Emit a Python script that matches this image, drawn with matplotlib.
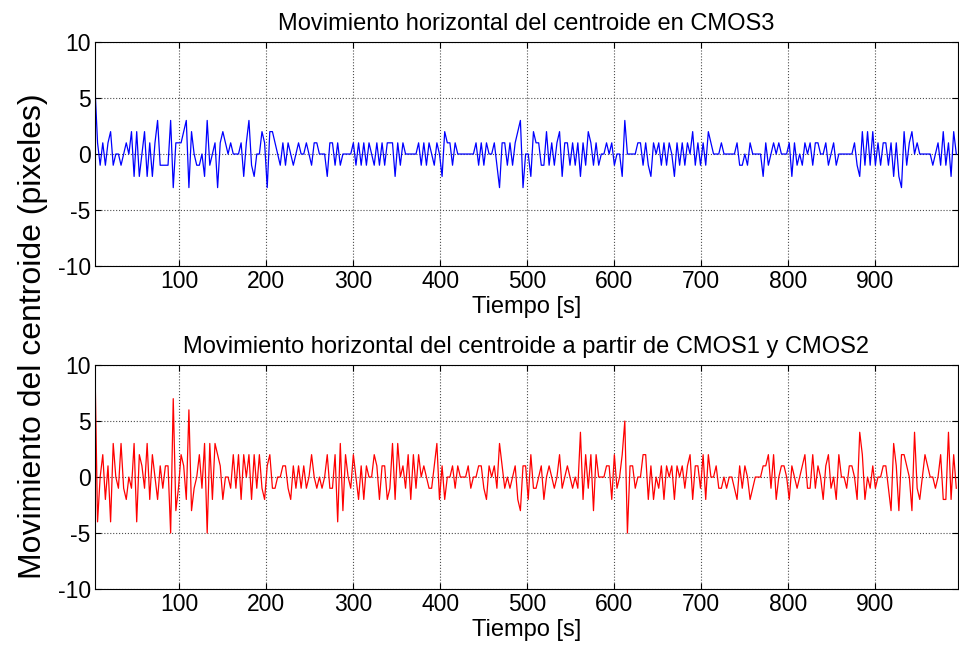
import matplotlib
matplotlib.use("Agg")
import matplotlib.pyplot as plt
import numpy as np

plt.rcParams['font.family'] = ['Liberation Sans', 'DejaVu Sans']
plt.rcParams['axes.unicode_minus'] = False

# sampling: first sample at t=3 s, one sample every 3 s
t_start = 3
t_step = 3

# horizontal centroid movement in CMOS3 (pixels), rows of ~100 s
cmos3 = (
    [6, 1, -1, 1, -1, 1, 2, -1, 0, 0, -1, 0, 1, 0, 2, -2, 2, -2, 0, 2, -2, 1, -2, 1, 3, -1, -1, -1, -1, 3, -3, 1, 1]
    + [1, 2, 3, -3, 2, 0, -1, -1, 0, -2, 3, -1, 0, 1, -3, 1, 2, 1, 0, 1, 0, 0, 0, 1, -2, 1, 3, -1, -2, 0, 0, 2, 1]
    + [-3, 2, 2, 1, 0, -1, 1, -1, 1, 0, -1, 0, 1, 0, 0, 1, 0, -1, 1, 1, 0, 0, 0, -2, 1, 1, -1, 1, -1, 0, 0, 0, 0]
    + [1, -1, 1, -1, 1, -1, 1, 0, -1, 1, -1, 1, -1, 1, 1, 1, -2, 1, -1, 1, 0, 0, 0, 0, 0, 1, -1, 1, -1, 1, 0, -1, 1]
    + [0, -2, 2, 1, 1, -1, 1, 0, 0, 0, 0, 0, 0, 0, 1, -1, 1, -1, 1, 0, 0, 1, -1, -3, 1, 1, -1, 1, -1, 1, 2, 3, -3]
    + [0, 0, -2, 2, 1, 1, -1, -1, 2, -1, 1, -1, 1, 2, -2, 1, 1, -1, 1, -1, 1, -2, 1, -1, 2, 1, -1, 1, -1, 0, 0, 1, 0]
    + [1, -1, 0, 0, -2, 3, 0, 0, 0, 0, 1, 1, -1, 1, -1, -2, 1, 0, 1, -1, 1, -1, 1, 0, -2, 1, -1, 1, -1, 1, 0, 2, -1]
    + [1, -1, 1, -1, 2, 1, 0, 0, 0, 1, 0, 0, 0, 0, 0, 1, -1, -1, 0, -1, 1, 0, 0, 0, 0, -2, 1, -1, 0, 1, 0, 1, 0]
    + [0, 0, 1, -2, 1, -1, 0, -1, 1, 0, 1, -1, 1, 1, 0, 0, 1, -1, 0, 1, -1, 0, 0, 0, 0, 0, 0, 1, -1, -2, 2, -1, 2]
    + [-1, 2, -1, 1, -1, 1, 1, -1, 1, -2, 1, -2, -3, 2, -1, 1, 2, 0, 1, 0, 0, 0, 0, 0, -1, 0, 1, -1, 2, -1, 1, -2, 2]
    + [0]
)

# horizontal centroid movement from CMOS1 and CMOS2 (pixels)
cmos12 = (
    [10, -4, 0, 2, -2, 1, -4, 3, 0, -1, 3, -1, -2, 0, -1, 3, -4, 2, 1, -1, 3, -2, 2, 0, -2, 1, -1, 1, 1, -5, 7, -3, -1]
    + [2, 1, -2, 6, -3, -1, 0, 2, -1, 3, -5, 3, -2, 3, 2, 1, -2, 0, 0, -1, 2, -1, 2, -2, 2, 0, 2, -2, 2, -1, 2, -1, -2]
    + [1, 2, -1, -1, 0, 0, 1, 1, -1, -2, 1, -1, 1, -1, 1, -1, 0, 2, 0, -1, 0, -1, 0, 2, -1, -1, 2, -4, 3, -3, 2, 0, -1]
    + [2, 0, -2, 1, -2, 1, 0, 0, 2, 1, -2, 1, 1, -2, -1, 3, -2, 3, 0, 1, -1, 2, -2, 2, -1, 2, 0, 1, 0, -1, -1, 1, 3]
    + [-2, 1, -2, 0, 0, 1, -1, 1, 0, 0, 0, 1, -1, 0, 0, 1, 1, -1, -2, 1, 0, 1, -1, 3, 1, -1, 0, -1, 0, 1, -2, -3, 1]
    + [1, -2, 2, -1, -1, 0, 1, -2, 0, 1, 0, -1, 0, 2, -1, 0, 1, 0, -1, 0, -1, 4, -2, 2, -1, 2, -3, 2, 0, 0, 0, 1, 1]
    + [-2, 2, -1, 0, 2, 5, -5, 1, 1, -1, 0, 0, 2, 2, -2, 1, -2, 0, -1, 1, -2, 1, 0, 1, -2, 1, 0, 1, -1, 1, 2, -2, 1]
    + [1, -1, 2, -2, 2, 0, 0, 1, -1, -1, 0, -1, 0, 0, -1, -2, 1, -1, 1, 0, -2, -1, 0, 0, 0, 1, 1, 2, -1, 2, -2, 0, 1]
    + [1, 0, -2, 1, 0, -1, 0, 1, 2, -1, -1, 2, -1, 1, 0, -2, 1, 2, -1, 0, -2, 2, 0, 0, -1, 1, 1, 0, -2, 4, 2, -2, 0]
    + [-1, 1, -1, 0, 0, 1, 1, -1, -3, 3, 1, -3, 2, 2, 1, 0, -3, 4, -1, -2, 0, 2, 1, 0, 0, -1, 0, 2, -2, -2, 4, -2, 2]
    + [-1]
)

x_ticks = [100, 200, 300, 400, 500, 600, 700, 800, 900]
y_ticks = [-10, -5, 0, 5, 10]
titles = ["Movimiento horizontal del centroide en CMOS3",
          "Movimiento horizontal del centroide a partir de CMOS1 y CMOS2"]

t = t_start + t_step * np.arange(len(cmos3))

fig = plt.figure(figsize=(9.59, 6.51), dpi=100)
ax1 = fig.add_axes([0.099, 0.5914, 0.9, 0.344])
ax2 = fig.add_axes([0.099, 0.0952, 0.9, 0.344])

for ax, y, col, title in [(ax1, cmos3, 'blue', titles[0]), (ax2, cmos12, 'red', titles[1])]:
    ax.plot(t, y, color=col, linewidth=0.9)
    ax.set_xlim(3, 995)
    ax.set_ylim(-10, 10)
    ax.set_xticks(x_ticks)
    ax.set_yticks(y_ticks)
    ax.grid(True, color='0.3', linestyle=':', linewidth=0.8)
    ax.tick_params(direction='in', length=4, top=True, right=True, labelsize=16.5, pad=3)
    ax.set_xlabel("Tiempo [s]", fontsize=17, labelpad=2)
    ax.set_title(title, fontsize=17, pad=9)
    for s in ax.spines.values():
        s.set_linewidth(0.8)

fig.text(0.034, 0.484, "Movimiento del centroide (pixeles)", rotation=90,
         fontsize=23, ha='center', va='center')

plt.savefig("out.png", dpi=100)
